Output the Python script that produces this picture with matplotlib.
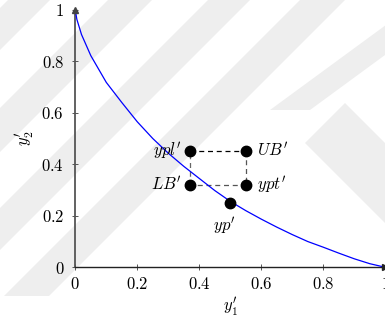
"""Frente de Pareto com pontos de referência (ypl', UB', LB', ypt', yp')."""
import matplotlib
matplotlib.use("Agg")
import matplotlib.pyplot as plt
from matplotlib.patches import Polygon, Rectangle

# curva
curva_x = [0, 0.005, 0.02, 0.05, 0.1, 0.15, 0.2, 0.25, 0.3, 0.35, 0.4, 0.45,
           0.5, 0.55, 0.6, 0.65, 0.7, 0.75, 0.8, 0.85, 0.9, 0.95, 1.0]
curva_y = [1.0, 0.963, 0.904, 0.822, 0.718, 0.640, 0.565, 0.500, 0.443, 0.392,
           0.345, 0.298, 0.256, 0.220, 0.187, 0.156, 0.127, 0.100, 0.078,
           0.055, 0.033, 0.014, 0.0]

# pontos
nomes = ["ypl", "UB", "LB", "ypt", "yp"]
px = [0.37, 0.55, 0.37, 0.55, 0.50]
py = [0.45, 0.45, 0.32, 0.32, 0.25]
rotulos = [r"$ypl'$", r"$UB'$", r"$LB'$", r"$ypt'$", r"$yp'$"]

ticks = [0, 0.2, 0.4, 0.6, 0.8, 1]
tick_labels = ["0", "0.2", "0.4", "0.6", "0.8", "1"]

plt.rcParams["mathtext.fontset"] = "cm"
plt.rcParams["font.family"] = "serif"
plt.rcParams["font.serif"] = ["DejaVu Serif"]

W, H = 385, 322
fig = plt.figure(figsize=(W / 100, H / 100), dpi=100)
ax = fig.add_axes([75.3 / W, 1 - 267.3 / H, 310 / W, 257.5 / H])
ax.patch.set_alpha(0)

ax.plot(curva_x, curva_y, color="#0000ff", lw=0.9, zorder=3)

# retângulo tracejado entre ypl, UB, ypt, LB
i = {n: k for k, n in enumerate(nomes)}
cores = {("ypl", "UB"): "black", ("UB", "ypt"): "#555555",
         ("ypt", "LB"): "#555555", ("LB", "ypl"): "#666666"}
for (a, b), c in cores.items():
    ax.plot([px[i[a]], px[i[b]]], [py[i[a]], py[i[b]]], color=c,
            lw=0.9, ls=(0, (4, 3)), zorder=2)

ax.plot(px, py, "o", color="black", ms=7.5, zorder=4)

offs = {"ypl": (-6, 0, "right", "center"), "UB": (8, 0, "left", "center"),
        "LB": (-6, 0, "right", "center"), "ypt": (8, 0, "left", "center"),
        "yp": (-4, -17, "center", "center")}
for n, x, y, r in zip(nomes, px, py, rotulos):
    dx, dy, ha, va = offs[n]
    ax.annotate(r, (x, y), xytext=(dx, dy), textcoords="offset points",
                ha=ha, va=va, fontsize=12)

ax.set_xlim(0, 1)
ax.set_ylim(0, 1)
ax.set_xticks(ticks)
ax.set_yticks(ticks)
ax.set_xticklabels(["$" + t + "$" for t in tick_labels], fontsize=12)
ax.set_yticklabels(["$" + t + "$" for t in tick_labels], fontsize=12)
ax.tick_params(direction="inout", length=4, width=0.7, colors="#555555",
               labelcolor="black")
ax.tick_params(axis="x", pad=4)
ax.tick_params(axis="y", pad=6)
ax.spines["top"].set_visible(False)
ax.spines["right"].set_visible(False)
ax.spines["left"].set_color("#555555")
ax.spines["left"].set_linewidth(1.3)
ax.spines["bottom"].set_color("#222222")
ax.spines["bottom"].set_linewidth(1.0)
ax.plot([1], [0], ">", color="#222222", ms=4, clip_on=False, zorder=5)
ax.plot([0], [1], "^", color="#444444", ms=4, clip_on=False, zorder=5)

ax.set_xlabel(r"$y_1'$", fontsize=12, labelpad=2)
ax.set_ylabel(r"$y_2'$", fontsize=12, labelpad=4)

# marca d'água (faixas diagonais claras, atrás do gráfico)
clip = Rectangle((0, 1 - 296 / H), 1, 296 / H, transform=fig.transFigure,
                 visible=False)
fig.add_artist(clip)
faixas = [[(8, 0), (50, 0), (-950, 1000), (-992, 1000)],
          [(108, 0), (152, 0), (-848, 1000), (-892, 1000)],
          [(208, 0), (250, 0), (-750, 1000), (-792, 1000)],
          [(300, 0), (345, 0), (-655, 1000), (-700, 1000)],
          [(420, 0), (460, 0), (310, 110), (270, 110)],
          [(305, 143), (345, 103), (470, 228), (430, 268)]]
for f in faixas:
    pts = [(x / W, 1 - y / H) for x, y in f]
    p = Polygon(pts, closed=True, transform=fig.transFigure,
                facecolor="#eeeeee", edgecolor="none", zorder=-1)
    fig.add_artist(p)
    p.set_clip_path(clip)

fig.savefig("out.png", dpi=100)
